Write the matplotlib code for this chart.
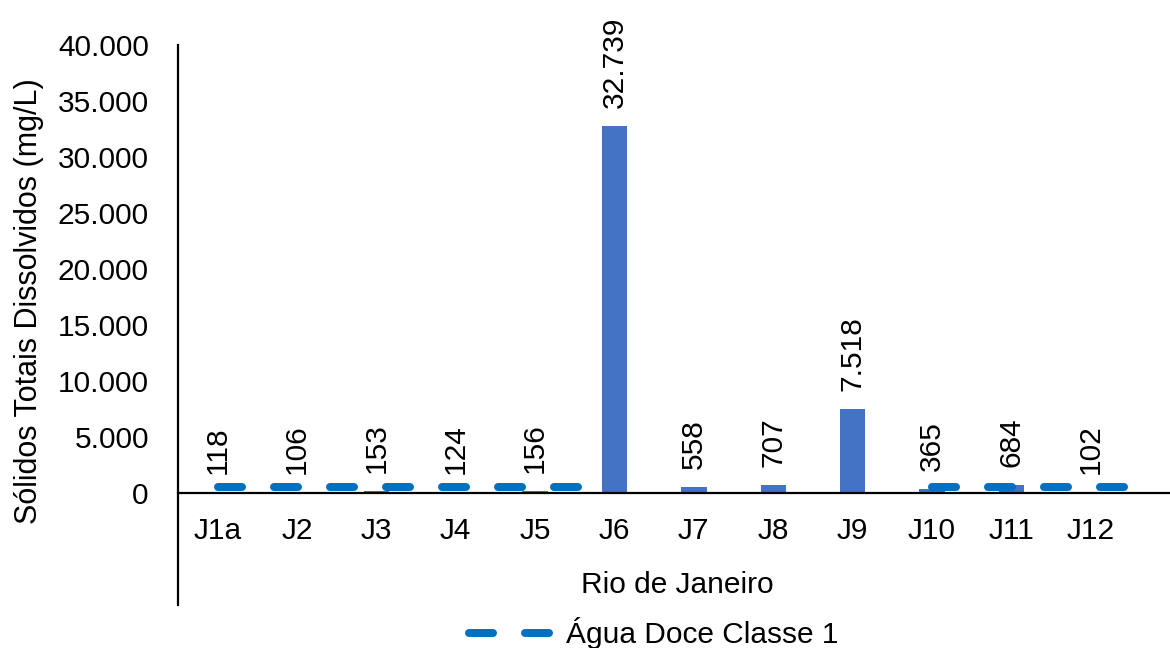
import matplotlib
matplotlib.use("Agg")
import matplotlib.pyplot as plt
import numpy as np

plt.rcParams["font.family"] = ["Liberation Sans", "DejaVu Sans"]

# pontos de coleta e STD medido (mg/L)
pontos = ["J1a", "J2", "J3", "J4", "J5", "J6", "J7", "J8", "J9", "J10", "J11", "J12"]
std = [118, 106, 153, 124, 156, 32739, 558, 707, 7518, 365, 684, 102]
limite_classe1 = 500  # CONAMA 357 - agua doce classe 1
yticks = [0, 5000, 10000, 15000, 20000, 25000, 30000, 35000, 40000]

BAR_COLOR = "#4472C4"
LINE_COLOR = "#0070C0"
FS = 21.5


def fmt_br(v):
    return f"{v:,.0f}".replace(",", ".")


fig = plt.figure(figsize=(11.7, 6.48), dpi=100)
ax = fig.add_axes([178 / 1170, 1 - 605 / 648, 1 - 178 / 1170, (605 - 45) / 648])

# eixo x passando pelo zero (tem que vir antes dos ticks, senao reseta)
ax.spines["bottom"].set_position(("data", 0))
ax.spines["top"].set_visible(False)
ax.spines["right"].set_visible(False)
for s in ("left", "bottom"):
    ax.spines[s].set_linewidth(1.6)
    ax.spines[s].set_color("black")

x = np.arange(len(pontos))
ax.bar(x, std, width=0.32, color=BAR_COLOR, zorder=2)

for xi, v in zip(x, std):
    ax.annotate(fmt_br(v), (xi, v), xytext=(0, 13), textcoords="offset points",
                rotation=90, ha="center", va="bottom", fontsize=FS)

# linha de referencia (so aparece em parte das estacoes no original)
lw_px = 8
segs = [(x[0], x[4] + 0.6), (x[9], x[-1] + 0.5)]
for i, (a, b) in enumerate(segs):
    ax.plot([a, b], [limite_classe1, limite_classe1], color=LINE_COLOR,
            lw=lw_px * 0.72, dashes=(3, 4), solid_capstyle="round",
            dash_capstyle="round", zorder=3,
            label="Água Doce Classe 1" if i == 0 else None)

ax.set_xlim(-0.5, 12.0)
ax.set_ylim(-10000, 40000)
ax.set_yticks(yticks)
ax.set_yticklabels([fmt_br(t) for t in yticks], fontsize=FS)
ax.set_xticks(x)
ax.set_xticklabels(pontos, fontsize=FS)
ax.tick_params(axis="both", length=0)
ax.tick_params(axis="y", pad=21)
ax.tick_params(axis="x", pad=17)

ax.text(0.503, (605 - 585) / 560, "Rio de Janeiro", transform=ax.transAxes,
        ha="center", va="center", fontsize=FS)
fig.text(29 / 1170, 1 - 301 / 648, "Sólidos Totais Dissolvidos (mg/L)",
         rotation=90, ha="center", va="center", fontsize=22)

fig.legend(loc="center", bbox_to_anchor=(654 / 1170, 1 - 633 / 648),
           frameon=False, fontsize=FS, handlelength=2.8, handletextpad=0.45)

fig.savefig("out.png", dpi=100)
